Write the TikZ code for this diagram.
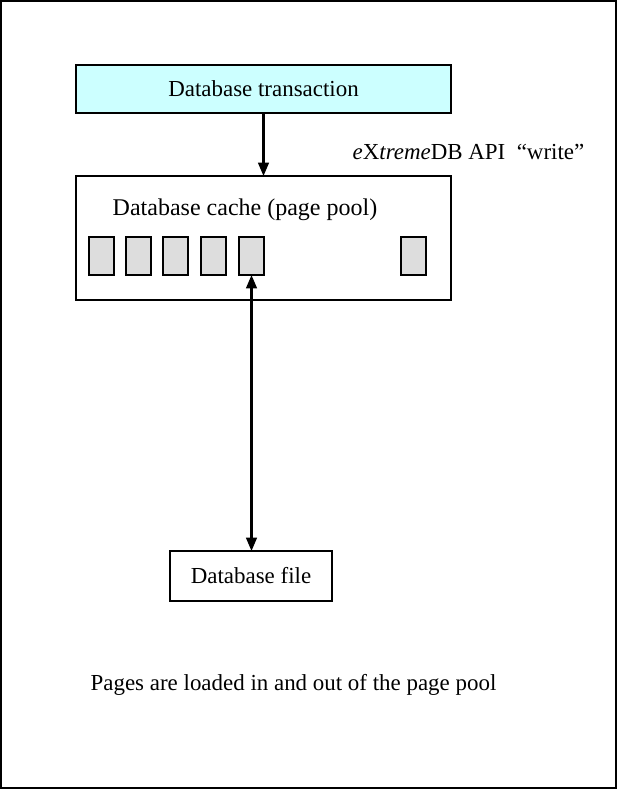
\documentclass[tikz,border=0pt]{standalone}
\usepackage{fontspec}
\setmainfont{Liberation Serif}
\usetikzlibrary{arrows.meta}

\definecolor{txcyan}{HTML}{CCFFFF}
\definecolor{pagegray}{HTML}{DDDDDD}

\tikzset{
  box/.style={draw, line width=1.5pt, outer sep=0pt, inner sep=0pt},
  page/.style={draw, fill=pagegray, line width=1.2pt, minimum width=18.75pt,
    minimum height=28.5pt, outer sep=0pt, inner sep=0pt},
  flow/.style={line width=1.6pt, -{Triangle[length=10pt,width=8pt]}},
  both/.style={line width=1.6pt, {Triangle[length=10pt,width=8pt]}-{Triangle[length=10pt,width=8pt]}},
  txt/.style={font=\fontsize{17.2}{20}\selectfont}
}

\begin{document}
\begin{tikzpicture}[x=0.75pt,y=-0.75pt]
    \useasboundingbox (0,0) rectangle (639,790);
    \draw[line width=1.5pt] (1,1) rectangle (616,788);

    % transaction and page pool
    \node[box, fill=txcyan, minimum width=281.25pt, minimum height=36pt, txt] (trans) at (263.5,89) {Database transaction};
    \node[box, minimum width=281.25pt, minimum height=93pt] (cache) at (263.5,238) {};
    \node[font=\fontsize{18}{21}\selectfont] (cachelbl) at (245,210) {Database cache (page pool)};

    \foreach \px [count=\i] in {101.5,138.5,175.5,213.5,251.5,413.5}
        \node[page] (p\i) at (\px,256) {};

    \node[box, minimum width=121.5pt, minimum height=37.5pt, txt] (file) at (251,576) {Database file};

    \node[txt, anchor=west] (api) at (348,152) {\textit{e}X\textit{treme}DB API~~“write”};
    \node[txt] (note) at (293.5,685) {Pages are loaded in and out of the page pool};

    \draw[flow] (trans.south) -- (trans.south |- cache.north);
    \draw[both] (p5.south) -- (p5.south |- file.north);
\end{tikzpicture}
\end{document}
